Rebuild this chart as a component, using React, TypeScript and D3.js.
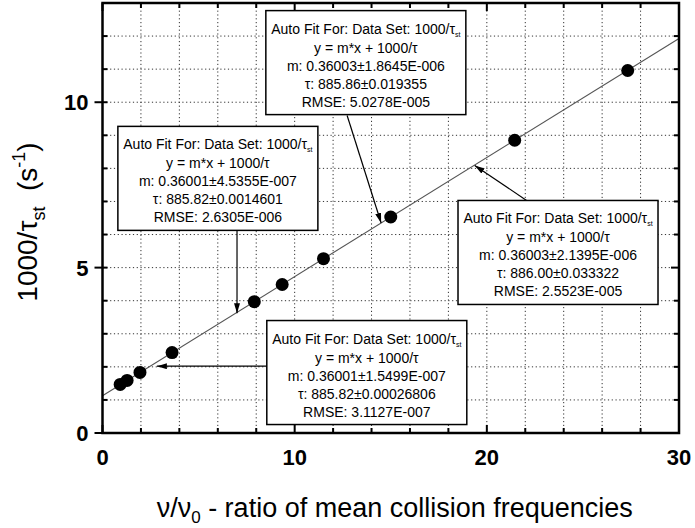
import React from 'react';
import * as d3 from 'd3';

// ---- data ----
const xValues = [0.92, 1.28, 1.95, 3.62, 7.9, 9.35, 11.5, 15.0, 21.45, 27.33];
const yValues = [1.47, 1.59, 1.83, 2.43, 3.97, 4.49, 5.27, 6.53, 8.85, 10.96];
const fitSlope = 0.36002;
const fitTau = 885.83;
const xMajorTicks = [0, 10, 20, 30];
const yMajorTicks = [0, 5, 10];
const xDomain = [0, 30];
const yDomain = [0, 13];

const boxM = ['0.36003±1.8645E-006', '0.36001±4.5355E-007', '0.36003±2.1395E-006', '0.36001±1.5499E-007'];
const boxTau = ['885.86±0.019355', '885.82±0.0014601', '886.00±0.033322', '885.82±0.00026806'];
const boxRmse = ['5.0278E-005', '2.6305E-006', '2.5523E-005', '3.1127E-007'];
// box top-left anchors in data units
const boxX = [8.5, 0.8, 18.5, 8.55];
const boxY = [12.77, 9.27, 7.03, 3.4];
// arrows (data units)
const arrowFromX = [12.73, 7.0, 22.07, 8.55];
const arrowFromY = [9.6, 6.17, 7.03, 2.02];
const arrowToX = [14.5, 7.0, 19.37, 2.83];
const arrowToY = [6.35, 3.62, 8.09, 2.02];

const FONT = 'Arial, "Liberation Sans", Helvetica, sans-serif';

export default function App() {
  const W = 695, H = 528;
  const m = { left: 102.5, right: 679, top: 3, bottom: 433 };
  const x = d3.scaleLinear().domain(xDomain).range([m.left, m.right]);
  const y = d3.scaleLinear().domain(yDomain).range([m.bottom, m.top]);
  const xMinor = d3.range(xDomain[0], xDomain[1] + 0.01, 2);
  const yMinor = d3.range(yDomain[0], yDomain[1] + 0.01, 1);
  const fitLine = d3.line<number>().x(d => x(d)).y(d => y(fitSlope * d + 1000 / fitTau));
  const boxW = 200, boxH = 104;

  return (
    <svg width={W} height={H} style={{ position: 'absolute', left: 0, top: 0, background: '#fff' }} fontFamily={FONT}>
      <defs>
        <marker id="ah" viewBox="0 0 10 6" refX="10" refY="3" markerWidth="10" markerHeight="6" markerUnits="userSpaceOnUse" orient="auto">
          <path d="M0,0 L10,3 L0,6 Z" fill="#000" />
        </marker>
      </defs>
      <rect x={0} y={0} width={W} height={H} fill="#fff" />
      {/* grid */}
      <g stroke="#333" strokeWidth={1} strokeDasharray="1.2 2.6">
        {xMinor.filter(v => v > xDomain[0] && v < xDomain[1]).map(v => (
          <line key={'gx' + v} x1={x(v)} x2={x(v)} y1={m.top} y2={m.bottom} />
        ))}
        {yMinor.filter(v => v > yDomain[0] && v < yDomain[1]).map(v => (
          <line key={'gy' + v} x1={m.left} x2={m.right} y1={y(v)} y2={y(v)} />
        ))}
      </g>
      {/* fit line */}
      <path d={fitLine([xDomain[0], xDomain[1]]) || ''} stroke="#555" strokeWidth={1.1} fill="none" />
      {/* arrows */}
      <g stroke="#000" strokeWidth={1.2}>
        {arrowFromX.map((v, i) => (
          <line key={'a' + i} x1={x(v)} y1={y(arrowFromY[i])} x2={x(arrowToX[i])} y2={y(arrowToY[i])} markerEnd="url(#ah)" />
        ))}
      </g>
      {/* points */}
      {xValues.map((v, i) => (
        <circle key={'p' + i} cx={x(v)} cy={y(yValues[i])} r={6.5} fill="#000" />
      ))}
      {/* boxes */}
      {boxX.map((bx, i) => {
        const left = x(bx), top = y(boxY[i]);
        const cx = left + boxW / 2;
        const fs = 14;
        return (
          <g key={'b' + i}>
            <rect x={left} y={top} width={boxW} height={boxH} fill="#fff" stroke="#000" strokeWidth={1.5} />
            <text x={cx} y={top + 23} textAnchor="middle" fontSize={fs} fill="#000">
              Auto Fit For: Data Set: 1000/τ<tspan fontSize={7} dy={3}>st</tspan>
            </text>
            <text x={cx} y={top + 42} textAnchor="middle" fontSize={fs} fill="#000">y = m*x + 1000/τ</text>
            <text x={cx} y={top + 60} textAnchor="middle" fontSize={fs} fill="#000">m: {boxM[i]}</text>
            <text x={cx} y={top + 78} textAnchor="middle" fontSize={fs} fill="#000">τ: {boxTau[i]}</text>
            <text x={cx} y={top + 96} textAnchor="middle" fontSize={fs} fill="#000">RMSE: {boxRmse[i]}</text>
          </g>
        );
      })}
      {/* ticks */}
      <g stroke="#000" strokeWidth={2}>
        {yMinor.map(v => {
          const major = yMajorTicks.includes(v);
          return (
            <g key={'ty' + v}>
              <line x1={major ? m.left - 8 : m.left} x2={m.left + 5} y1={y(v)} y2={y(v)} />
              <line x1={m.right} x2={m.right - (major ? 8 : 5)} y1={y(v)} y2={y(v)} />
            </g>
          );
        })}
        {xMinor.map(v => {
          const major = xMajorTicks.includes(v);
          return (
            <g key={'tx' + v}>
              <line x1={x(v)} x2={x(v)} y1={m.bottom} y2={m.bottom - (major ? 8 : 5)} />
              <line x1={x(v)} x2={x(v)} y1={m.top} y2={m.top + (major ? 8 : 5)} />
            </g>
          );
        })}
      </g>
      {/* frame */}
      <rect x={m.left} y={m.top} width={m.right - m.left} height={m.bottom - m.top} fill="none" stroke="#000" strokeWidth={2.5} />
      {/* tick labels */}
      {yMajorTicks.map(v => (
        <text key={'ly' + v} x={m.left - 14} y={y(v)} dy="0.36em" textAnchor="end" fontSize={22} fontWeight="bold">{v}</text>
      ))}
      {xMajorTicks.map(v => (
        <text key={'lx' + v} x={x(v)} y={m.bottom + 32} textAnchor="middle" fontSize={22} fontWeight="bold">{v}</text>
      ))}
      {/* axis titles */}
      <text transform={`translate(37,${(m.top + m.bottom) / 2 + 4}) rotate(-90)`} textAnchor="middle" fontSize={28}>
        1000/τ<tspan fontSize={18} dy={8}>st</tspan><tspan dy={-8}>{'\u00a0\u00a0'}(s</tspan><tspan fontSize={18} dy={-12}>-1</tspan><tspan dy={12}>)</tspan>
      </text>
      <text x={(m.left + m.right) / 2 + 4} y={517} textAnchor="middle" fontSize={27}>
        ν/ν<tspan fontSize={17} dy={6}>0</tspan><tspan dy={-6}> - ratio of mean collision frequencies</tspan>
      </text>
    </svg>
  );
}
